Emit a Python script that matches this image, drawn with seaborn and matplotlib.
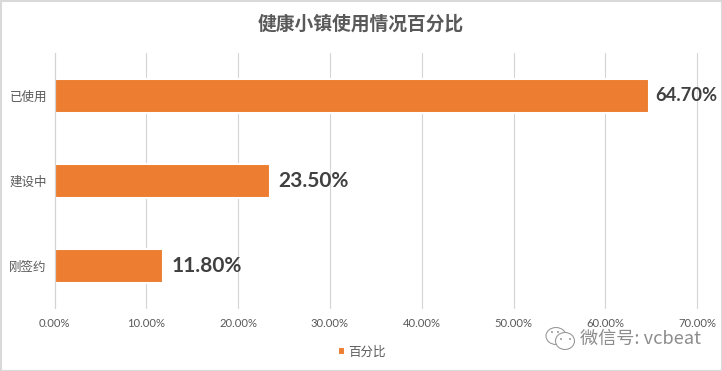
import matplotlib
matplotlib.use("Agg")
import matplotlib.pyplot as plt
from matplotlib.patches import Ellipse, Rectangle
import pandas as pd
import seaborn as sns

categories = ["已使用", "建设中", "刚签约"]
values = [64.7, 23.5, 11.8]
series_name = "百分比"
x_ticks = [0, 10, 20, 30, 40, 50, 60, 70]
title = "健康小镇使用情况百分比"
watermark = "微信号: vcbeat"

W, H = 722, 371
GRID = "#D4D4D4"
ORANGE = "#ED7D31"

sns.set_theme(style="white")
plt.rcParams["font.family"] = ["Lato", "Noto Sans CJK SC", "DejaVu Sans"]

df = pd.DataFrame({"cat": categories, "val": values, "series": series_name})

fig = plt.figure(figsize=(W / 100, H / 100), dpi=100, facecolor="white")
ax = fig.add_axes([54.5 / W, 1 - 308 / H, (697.3 - 54.5) / W, 255 / H])
ax.set_axisbelow(True)

sns.barplot(data=df, x="val", y="cat", hue="series", palette=[ORANGE], orient="h", saturation=1,
            width=0.4, dodge=False, ax=ax, edgecolor="white", linewidth=1.5, legend=True)

ax.set_xlim(0, 70)
ax.set_ylim(2.5, -0.5)
ax.set_xlabel("")
ax.set_ylabel("")
ax.set_xticks(x_ticks)
ax.set_xticklabels([f"{v:.2f}%" for v in x_ticks], fontsize=8.1, color="#595959")
ax.tick_params(axis="x", length=0, pad=7)
ax.tick_params(axis="y", which="major", length=0, pad=5.5, labelsize=9, labelcolor="#595959")
ax.set_yticks([-0.5, 0.5, 1.5, 2.5], minor=True)
ax.tick_params(axis="y", which="minor", length=3, width=0.8, color=GRID)

ax.grid(axis="x", color=GRID, linewidth=0.8)
for g in ax.get_xgridlines():
    g.set_clip_on(False)
for side in ["top", "right", "bottom"]:
    ax.spines[side].set_visible(False)
ax.spines["left"].set_color(GRID)
ax.spines["left"].set_linewidth(0.8)

label_sizes = [13.2, 15, 15]
label_pads = [4.5, 6, 6.5]
for container in ax.containers:
    texts = ax.bar_label(container, labels=[f"{v:.2f}%" for v in values], padding=5,
                         fontweight="bold", color="#404040", clip_on=False)
    for t, s, p in zip(texts, label_sizes, label_pads):
        t.set_fontsize(s)
        t.xyann = (p, t.xyann[1])

ax.legend(loc="center", bbox_to_anchor=(361.5 / W, 1 - 352 / H), bbox_transform=fig.transFigure,
          frameon=False, handlelength=0.6, handleheight=0.6, handletextpad=0.2,
          labelcolor="#595959", prop={"size": 9, "family": ["Noto Sans CJK SC", "DejaVu Sans"]},
          borderpad=0)

fig.text(361 / W, 1 - 24 / H, title, ha="center", va="center", fontsize=13.5, fontweight="bold",
         color="#595959", family=["Noto Sans CJK SC", "DejaVu Sans"])

# watermark
fig.text(580 / W, 1 - 339 / H, watermark, ha="left", va="center", fontsize=13.1, color="#8C8C8C",
         family=["Noto Sans CJK SC", "DejaVu Sans"])


def fx(px):
    return px / W


def fy(px):
    return 1 - px / H


for cx, cy, w, h in [(556, 336, 20, 17), (565, 341, 19, 17)]:
    fig.add_artist(Ellipse((fx(cx), fy(cy)), w / W, h / H, transform=fig.transFigure,
                           facecolor="white", edgecolor="#9A9A9A", linewidth=0.8))
for cx, cy in [(552, 332), (558, 332), (561, 339), (570, 339)]:
    fig.add_artist(Ellipse((fx(cx), fy(cy)), 2 / W, 2 / H, transform=fig.transFigure,
                           facecolor="#9A9A9A", edgecolor="none"))

# chart frame
fig.add_artist(Rectangle((0.5 / W, 0.5 / H), (W - 1) / W, (H - 1) / H, transform=fig.transFigure,
                         fill=False, edgecolor="#D9D9D9", linewidth=1.5))

fig.savefig("out.png", dpi=100, facecolor="white")
